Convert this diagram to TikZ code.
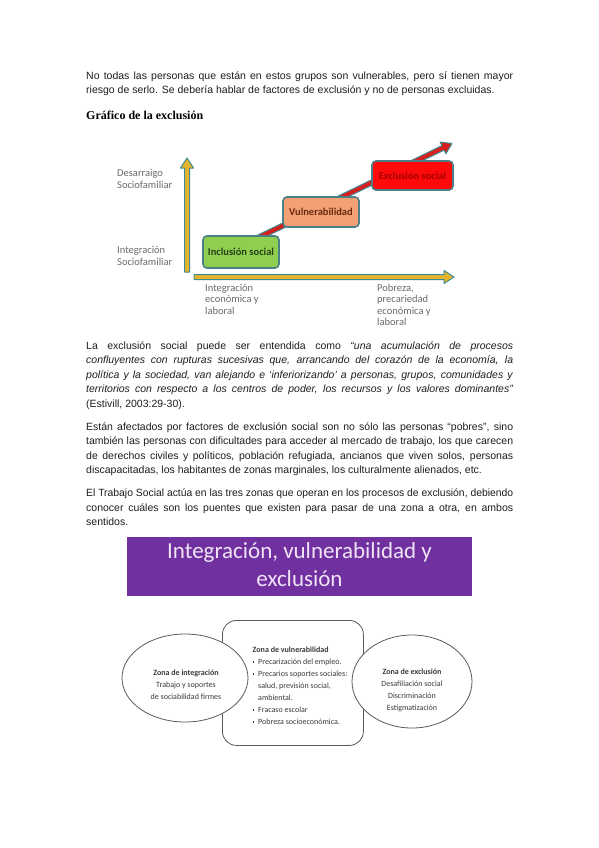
\documentclass[tikz,border=0pt]{standalone}
\usepackage{fontspec}
\usepackage{graphicx}
\setmainfont{Liberation Sans}
\newfontfamily\serifbf{Liberation Serif}
\newfontfamily\calfont{Carlito}
\usetikzlibrary{calc,shapes.geometric}
\definecolor{textc}{HTML}{1E1E1E}
\definecolor{axgold}{HTML}{E6B52C}
\definecolor{axteal}{HTML}{3F8B94}
\definecolor{boxedge}{HTML}{4A8088}
\definecolor{greenbox}{HTML}{8FCF4F}
\definecolor{greentxt}{HTML}{27401A}
\definecolor{orangebox}{HTML}{F2A074}
\definecolor{orangetxt}{HTML}{6B2A10}
\definecolor{redbox}{HTML}{FF0A0A}
\definecolor{redtxt}{HTML}{A50000}
\definecolor{redarrow}{HTML}{D81E1E}
\definecolor{purplebox}{HTML}{7030A0}
\definecolor{lav}{HTML}{EFE3F5}
\definecolor{zedge}{HTML}{5A5A5A}
\definecolor{zgray}{HTML}{3A3A3A}
\definecolor{axgray}{HTML}{6A6A6A}
\newcommand\bodyfont{\fontsize{10.5}{14.5}\selectfont}
\newlength\jw \setlength\jw{427pt}
\newsavebox\jbox
\newcommand\jline[1]{\sbox\jbox{#1}\ifdim\wd\jbox>\jw\relax\resizebox{\jw}{\ht\jbox}{\usebox\jbox}\else\hbox to\jw{#1}\fi}
\newcommand\blockarrow[4]{%
 \coordinate (bah) at ($(#2)!10pt!(#1)$);
 \filldraw[fill=#3, draw=#4, line width=1pt, line join=round]
  ($(#1)!2.5pt!90:(#2)$) -- ($(bah)!2.5pt!90:(#2)$) -- ($(bah)!6.5pt!90:(#2)$) -- (#2)
  -- ($(bah)!6.5pt!-90:(#2)$) -- ($(bah)!2.5pt!-90:(#2)$) -- ($(#1)!2.5pt!-90:(#2)$) -- cycle;}
\newcommand\bul{\makebox[5.5pt][l]{\raisebox{1.6pt}{\rule{1.6pt}{1.6pt}}}}
\begin{document}
\begin{tikzpicture}[x=1pt,y=-1pt,
  txt/.style={anchor=base west, inner sep=0pt, font=\bodyfont, text=textc},
  axlab/.style={anchor=base west, inner sep=0pt, align=left, font=\calfont\fontsize{10.5}{11.5}\selectfont, text=axgray},
  stepbox/.style={draw=boxedge, line width=1.6pt, rounded corners=4pt, inner sep=0pt, font=\calfont\bfseries\fontsize{10.5}{12}\selectfont},
  zonetxt/.style={inner sep=0pt, font=\calfont\fontsize{8}{12}\selectfont, text=zgray},
  zshape/.style={draw=zedge, line width=0.8pt, inner sep=0pt}
]
\useasboundingbox (0,0) rectangle (599,848);
\fill[white] (0,0) rectangle (599,848);

% paragraph 1
\node[txt] (p1a) at (86,79.5) {\jline{No todas las personas que están en estos grupos son vulnerables, pero sí tienen mayor}};
\node[txt] (p1b) at (86,94) {riesgo de serlo. Se debería hablar de factores de exclusión y no de personas excluidas.};
\node[anchor=base west, inner sep=0pt, font=\serifbf\bfseries\fontsize{12}{14}\selectfont, text=black] (h1) at (86,120) {Gráfico de la exclusión};

% diagram 1
\coordinate (vA) at (187,272); \coordinate (vB) at (187,158);
\coordinate (hA) at (194,277); \coordinate (hB) at (454,277);
\coordinate (rA) at (241,246); \coordinate (rB) at (452,143.5);
\blockarrow{vA}{vB}{axgold}{axteal}
\blockarrow{hA}{hB}{axgold}{axteal}
\blockarrow{rA}{rB}{redarrow}{axteal}
\node[stepbox, fill=greenbox, minimum width=76pt, minimum height=32pt, text=greentxt] (inc) at (241,252) {Inclusión social};
\node[stepbox, fill=orangebox, minimum width=76pt, minimum height=30pt, text=orangetxt] (vul) at (321,212) {Vulnerabilidad};
\node[stepbox, fill=redbox, minimum width=81pt, minimum height=29pt, text=redtxt] (exc) at (412.5,175.5) {Exclusión social};
% multi-line labels: base anchor = baseline of last line
\node[axlab] (ly1) at (117,188) {Desarraigo\\Sociofamiliar};
\node[axlab] (ly2) at (117,265) {Integración\\Sociofamiliar};
\node[axlab] (lx1) at (205,314) {Integración\\económica y\\laboral};
\node[axlab] (lx2) at (377,325.5) {Pobreza,\\precariedad\\económica y\\laboral};

% paragraph 2
\node[txt] (p2a) at (86,349) {\jline{La exclusión social puede ser entendida como \textit{“una acumulación de procesos}}};
\node[txt] (p2b) at (86,363.5) {\jline{\textit{confluyentes con rupturas sucesivas que, arrancando del corazón de la economía, la}}};
\node[txt] (p2c) at (86,378) {\jline{\textit{política y la sociedad, van alejando e ‘inferiorizando’ a personas, grupos, comunidades y}}};
\node[txt] (p2d) at (86,392.5) {\jline{\textit{territorios con respecto a los centros de poder, los recursos y los valores dominantes”}}};
\node[txt] (p2e) at (86,407) {(Estivill, 2003:29-30).};

% paragraph 3
\node[txt] (p3a) at (86,430) {\jline{Están afectados por factores de exclusión social son no sólo las personas “pobres”, sino}};
\node[txt] (p3b) at (86,444.5) {\jline{también las personas con dificultades para acceder al mercado de trabajo, los que carecen}};
\node[txt] (p3c) at (86,459) {\jline{de derechos civiles y políticos, población refugiada, ancianos que viven solos, personas}};
\node[txt] (p3d) at (86,473.5) {discapacitadas, los habitantes de zonas marginales, los culturalmente alienados, etc.};

% paragraph 4
\node[txt] (p4a) at (86,496.5) {\jline{El Trabajo Social actúa en las tres zonas que operan en los procesos de exclusión, debiendo}};
\node[txt] (p4b) at (86,511) {\jline{conocer cuáles son los puentes que existen para pasar de una zona a otra, en ambos}};
\node[txt] (p4c) at (86,525.5) {sentidos.};

% diagram 2
\node[fill=purplebox, minimum width=345pt, minimum height=59pt, inner sep=0pt, anchor=north west] (tit) at (127,537) {};
\node[anchor=base, inner sep=0pt, font=\calfont\fontsize{23}{28}\selectfont, text=lav] (t1) at (299.5,558) {Integración, vulnerabilidad y};
\node[anchor=base, inner sep=0pt, font=\calfont\fontsize{23}{28}\selectfont, text=lav] (t2) at (299.5,586) {exclusión};

\node[zshape, rounded corners=14pt, minimum width=141pt, minimum height=125pt, anchor=north west] (zv) at (222,620) {};
\node[zshape, ellipse, fill=white, minimum width=126pt, minimum height=88pt] (zi) at (185,678) {};
\node[zshape, ellipse, fill=white, minimum width=120pt, minimum height=93pt] (ze) at (412,681.5) {};

\node[zonetxt, anchor=base, align=center] (zit) at (186,699.5) {\textbf{Zona de integración}\\Trabajo y soportes\\de sociabilidad firmes};
\node[zonetxt, anchor=base, align=center] (zet) at (412,710.5) {\textbf{Zona de exclusión}\\Desafiliación social\\Discriminación\\Estigmatización};
\node[zonetxt, anchor=base west, align=left] (zvt) at (252.5,724.5) {\textbf{Zona de vulnerabilidad}\\\bul Precarización del empleo.\\\bul Precarios soportes sociales:\\\hspace*{5.5pt}salud, previsión social,\\\hspace*{5.5pt}ambiental.\\\bul Fracaso escolar\\\bul Pobreza socioeconómica.};
\end{tikzpicture}
\end{document}
